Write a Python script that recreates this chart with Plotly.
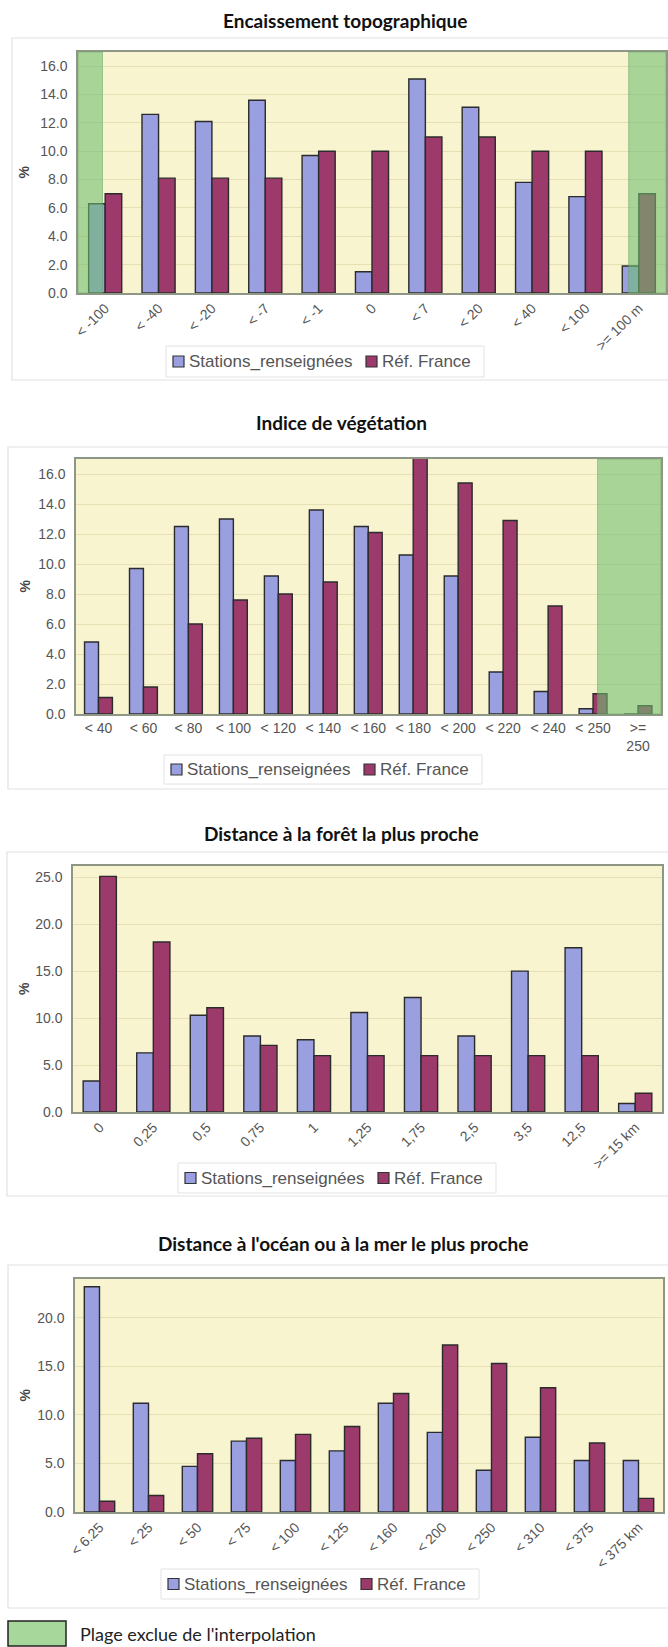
import plotly.graph_objects as go

# ---- data -------------------------------------------------------------
series_names = ["Stations_renseignées", "Réf. France"]

enc_cats = ["< -100", "< -40", "< -20", "< -7", "< -1", "0", "< 7", "< 20", "< 40", "< 100", ">= 100 m"]
enc_stations = [6.3, 12.6, 12.1, 13.6, 9.7, 1.5, 15.1, 13.1, 7.8, 6.8, 1.9]
enc_france = [7.0, 8.1, 8.1, 8.1, 10.0, 10.0, 11.0, 11.0, 10.0, 10.0, 7.0]

veg_cats = ["< 40", "< 60", "< 80", "< 100", "< 120", "< 140", "< 160", "< 180", "< 200", "< 220", "< 240", "< 250", ">=<br>250"]
veg_stations = [4.8, 9.7, 12.5, 13.0, 9.2, 13.6, 12.5, 10.6, 9.2, 2.8, 1.5, 0.35, 0.0]
veg_france = [1.1, 1.8, 6.0, 7.6, 8.0, 8.8, 12.1, 17.1, 15.4, 12.9, 7.2, 1.35, 0.55]

foret_cats = ["0", "0,25", "0,5", "0,75", "1", "1,25", "1,75", "2,5", "3,5", "12,5", ">= 15 km"]
foret_stations = [3.3, 6.3, 10.3, 8.1, 7.7, 10.6, 12.2, 8.1, 15.0, 17.5, 0.9]
foret_france = [25.1, 18.1, 11.1, 7.1, 6.0, 6.0, 6.0, 6.0, 6.0, 6.0, 2.0]

mer_cats = ["< 6.25", "< 25", "< 50", "< 75", "< 100", "< 125", "< 160", "< 200", "< 250", "< 310", "< 375", "< 375 km"]
mer_stations = [23.2, 11.2, 4.7, 7.3, 5.3, 6.3, 11.2, 8.2, 4.3, 7.7, 5.3, 5.3]
mer_france = [1.1, 1.7, 6.0, 7.6, 8.0, 8.8, 12.2, 17.2, 15.3, 12.8, 7.1, 1.4]

# ---- layout helpers ---------------------------------------------------
W, H = 668, 1647
def px(x): return x / W
def py(y): return 1 - y / H

BLUE = "#9A9FE0"
RED = "#9B3A6B"
GREEN = "rgba(110,190,110,0.58)"
PLOT_BG = "#F8F4D0"
GRID = "#E6E0B4"
AXIS_LINE = "#8E9685"
ARIAL = "Liberation Sans, Arial"
TICK_FONT = dict(family=ARIAL, size=14, color="#555555")

charts = [
    dict(title="Encaissement topographique", cats=enc_cats, s1=enc_stations, s2=enc_france,
         xd=(78, 666), yd=(52, 293), box=(12, 38, 380), yr=17.0, dt=2, ang=-45,
         green=[(-0.5, -0.05), (9.81, 10.5)], ty=20, tx=345, leg=(166, 346, 377)),
    dict(title="Indice de végétation", cats=veg_cats, s1=veg_stations, s2=veg_france,
         xd=(76, 661), yd=(459, 714), box=(8, 447, 789), yr=17.0, dt=2, ang=0,
         green=[(11.1, 12.5)], ty=422, tx=341, leg=(164, 755, 784)),
    dict(title="Distance à la forêt la plus proche", cats=foret_cats, s1=foret_stations, s2=foret_france,
         xd=(73, 662), yd=(866, 1112), box=(7, 852, 1196), yr=26.2, dt=5, ang=-45,
         green=[], ty=833, tx=341, leg=(178, 1163, 1193)),
    dict(title="Distance à l'océan ou à la mer le plus proche", cats=mer_cats, s1=mer_stations, s2=mer_france,
         xd=(75, 663), yd=(1279, 1512), box=(8, 1265, 1608), yr=24.0, dt=5, ang=-45,
         green=[], ty=1243, tx=343, leg=(161, 1569, 1599)),
]

fig = go.Figure()
shapes, annotations = [], []
layout = {}

for i, c in enumerate(charts, start=1):
    sfx = "" if i == 1 else str(i)
    xa, ya = "x" + sfx, "y" + sfx
    for name, vals, col in [(series_names[0], c["s1"], BLUE), (series_names[1], c["s2"], RED)]:
        fig.add_trace(go.Bar(
            x=c["cats"], y=vals, name=name, xaxis=xa, yaxis=ya,
            marker=dict(color=col, line=dict(color="#2b2b2b", width=1.4)),
            hoverinfo="x+y", showlegend=False,
        ))
    layout["xaxis" + sfx] = dict(
        domain=[px(c["xd"][0]), px(c["xd"][1])], anchor=ya,
        tickangle=c["ang"], tickfont=TICK_FONT, showgrid=False,
        showline=True, linecolor=AXIS_LINE, linewidth=1.5, mirror=True,
        ticks="", fixedrange=True,
    )
    layout["yaxis" + sfx] = dict(
        domain=[py(c["yd"][1]), py(c["yd"][0])], anchor=xa,
        range=[0, c["yr"]], dtick=c["dt"], tickformat=".1f", tickfont=TICK_FONT,
        showgrid=True, gridcolor=GRID, gridwidth=1,
        showline=True, linecolor=AXIS_LINE, linewidth=1.5, mirror=True,
        zeroline=False, ticks="", ticklabelstandoff=6, fixedrange=True,
    )
    # chart area box and plot background
    bx0, by0, by1 = c["box"]
    shapes.append(dict(type="rect", xref="paper", yref="paper", layer="below",
                       x0=px(bx0), x1=px(W + 4), y0=py(by1), y1=py(by0),
                       line=dict(color="#E2E2E2", width=1.2), fillcolor="white"))
    shapes.append(dict(type="rect", xref="paper", yref="paper", layer="below",
                       x0=px(c["xd"][0]), x1=px(c["xd"][1]), y0=py(c["yd"][1]), y1=py(c["yd"][0]),
                       line=dict(width=0), fillcolor=PLOT_BG))
    # excluded ranges
    for g0, g1 in c["green"]:
        shapes.append(dict(type="rect", xref=xa, yref=ya + " domain", layer="above",
                           x0=g0, x1=g1, y0=0, y1=1,
                           line=dict(color="rgba(100,160,100,0.5)", width=1), fillcolor=GREEN))
    # title and y axis label
    annotations.append(dict(text="<b>" + c["title"] + "</b>", xref="paper", yref="paper",
                            x=px(c["tx"]), y=py(c["ty"]), xanchor="center", yanchor="middle",
                            showarrow=False, font=dict(family="Lato", size=19, color="#111")))
    annotations.append(dict(text="<b>%</b>", xref="paper", yref="paper", textangle=-90,
                            x=px(24), y=py((c["yd"][0] + c["yd"][1]) / 2),
                            xanchor="center", yanchor="middle", showarrow=False,
                            font=dict(family=ARIAL, size=14, color="#444")))
    # legend (drawn by hand to keep Excel's compact look)
    lx, ly0, ly1 = c["leg"]
    lyc = (ly0 + ly1) / 2
    shapes.append(dict(type="rect", xref="paper", yref="paper",
                       x0=px(lx), x1=px(lx + 318), y0=py(ly1), y1=py(ly0),
                       line=dict(color="#E2E2E2", width=1), fillcolor="white"))
    for off, col, name in [(7, BLUE, series_names[0]), (200, RED, series_names[1])]:
        shapes.append(dict(type="rect", xref="paper", yref="paper",
                           x0=px(lx + off), x1=px(lx + off + 11), y0=py(lyc + 5.5), y1=py(lyc - 5.5),
                           line=dict(color="#333", width=1.2), fillcolor=col))
        annotations.append(dict(text=name, xref="paper", yref="paper",
                                x=px(lx + off + 14), y=py(lyc), xanchor="left", yanchor="middle",
                                showarrow=False, font=dict(family=ARIAL, size=17, color="#555")))

# footer legend for the excluded range
shapes.append(dict(type="rect", xref="paper", yref="paper",
                   x0=px(8), x1=px(66), y0=py(1646), y1=py(1621),
                   line=dict(color="#222", width=1.5), fillcolor="#A8D79B"))
annotations.append(dict(text="Plage exclue de l'interpolation", xref="paper", yref="paper",
                        x=px(78), y=py(1634), xanchor="left", yanchor="middle", showarrow=False,
                        font=dict(family="Lato", size=18, color="#222")))

fig.update_layout(
    width=W, height=H, margin=dict(l=0, r=0, t=0, b=0, autoexpand=False),
    paper_bgcolor="white", plot_bgcolor="rgba(0,0,0,0)",
    barmode="group", bargap=0.38, bargroupgap=0,
    showlegend=False, shapes=shapes, annotations=annotations,
    **layout,
)

fig.write_html("out.html", config={"displayModeBar": False},
               post_script="document.body.style.margin='0px';")
